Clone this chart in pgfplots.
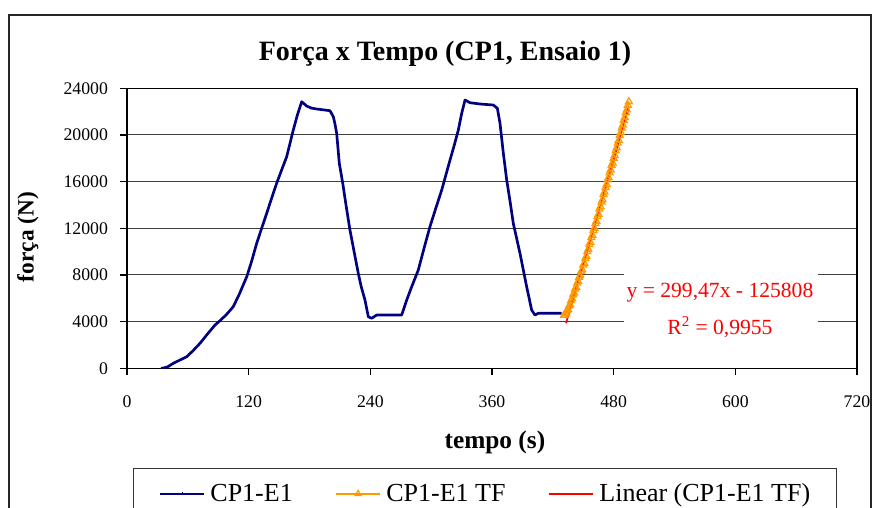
\documentclass[border=0pt]{standalone}
\usepackage{pgfplots}
\pgfplotsset{compat=1.18}
\usepackage{fontspec}
\setmainfont{Liberation Serif}
\definecolor{navyb}{RGB}{0,0,128}
\definecolor{orangetf}{RGB}{255,153,0}
\definecolor{redlin}{RGB}{255,0,0}
\begin{document}
\begin{tikzpicture}
\useasboundingbox (0,0) rectangle (655.5pt,-380.25pt);
\clip (0,0) rectangle (655.5pt,-380.25pt);
\fill[white] (0,0) rectangle (655.5pt,-380.25pt);
\draw[black!85,line width=1.1pt] (6.75pt,-11.25pt) rectangle (653.25pt,-465pt);
\begin{axis}[
  at={(95.25pt,-276.225pt)}, anchor=south west,
  scale only axis, width=547.5pt, height=210pt,
  xmin=0, xmax=720, ymin=0, ymax=24000,
  xtick={0,120,...,720}, ytick={0,4000,...,24000},
  tick pos=left, tick align=outside, major tick length=5.25pt,
  every tick/.style={black,line width=0.8pt},
  axis line style={black,line width=0.9pt},
  ymajorgrids, grid style={black!75,line width=0.75pt},
  /pgf/number format/assume math mode=true,
  /pgf/number format/1000 sep={},
  scaled ticks=false,
  tick label style={font=\fontsize{13.3}{15}\selectfont},
  yticklabel style={xshift=-5.5pt},
  xticklabel style={yshift=-12pt},
  title={\textbf{Força x Tempo (CP1, Ensaio 1)}},
  title style={at={(axis description cs:0.4356,1.07)},anchor=base,font=\fontsize{21}{24}\selectfont},
  xlabel={\textbf{tempo (s)}},
  xlabel style={at={(axis description cs:0.504,-0.288)},anchor=base,font=\fontsize{19}{22}\selectfont},
  ylabel={\textbf{força (N)}},
  ylabel style={at={(axis description cs:-0.1356,0.469)},anchor=center,rotate=0,font=\fontsize{17.5}{20}\selectfont},
  legend style={at={(axis description cs:0.0082,-0.3561)},anchor=north west,
    legend columns=3, draw=black!80, line width=0.75pt,
    inner xsep=19.5pt, inner ysep=11.5pt,
    nodes={inner sep=0pt, font=\fontsize{19.5}{22}\selectfont},
    /tikz/every odd column/.append style={column sep=4pt},
    /tikz/every even column/.append style={column sep=32pt}},
]
\addplot[navyb, line width=2pt, mark=none, line join=round,
  legend image code/.code={\draw[navyb,line width=1.2pt] (0pt,0pt) -- (33pt,0pt); \draw[navyb,line width=1pt] (16.5pt,0pt) -- (16.5pt,1.6pt);}]
coordinates {
(33.5,0) (36,30) (40,120) (45.7,430) (52,700) (58.9,994) (65,1500) (72,2143) (79,2900) (86.8,3711) (91.7,4080) (98,4600) (104.8,5280) (111,6400) (118.1,7851) (123,9200) (127.9,10714) (132.8,12000) (137.8,13285) (142.7,14600) (147.6,15857) (152.5,17000) (157.5,18136) (164,20425) (168,21700) (172.3,22851) (177.2,22482) (182,22300) (187.1,22225) (194,22150) (200.2,22079) (203.5,21565) (205,21000) (206.8,20142) (209.4,17571) (212.8,15857) (216,14000) (219.9,11854) (224,10000) (228.1,8143) (231,7000) (234.7,5857) (238,4423) (241.3,4286) (246.3,4568) (270.9,4568) (275.9,5857) (280.8,6994) (287.3,8425) (293,10300) (298.8,12137) (304.5,13700) (310.4,15282) (318.6,17854) (322.7,19100) (326.8,20425) (330.1,21856) (333.4,22996) (338.3,22765) (348.2,22654) (361.3,22568) (365.3,22285) (367.9,21000) (371.2,18428) (374.5,16139) (378,14200) (381,12428) (387.6,9857) (394.2,6994) (399.1,4997) (402.4,4568) (405.7,4714) (428.7,4714)
};
\addlegendentry{CP1-E1}
\addplot[orangetf, line width=1.6pt, mark=triangle, mark size=3pt, mark options={line width=0.9pt},
  legend image code/.code={\draw[orangetf,line width=1.2pt] (0pt,0pt) -- (33pt,0pt); \draw[orangetf,line width=0.9pt] plot[mark=triangle,mark size=2.6pt] coordinates {(16.5pt,0pt)};}]
coordinates {
(431,4550) (432,4650) (433,4700) (434,4950) (435,5050) (436,5350) (437,5450) (438,5800) (439,5950) (440,6300) (441,6450) (442,6800) (443,6950) (444,7300) (445,7450) (446,7800) (447,7950) (448,8300) (449,8450) (450,8850) (451,9000) (452,9400) (453,9600) (454,10000) (455,10200) (456,10600) (457,10800) (458,11200) (459,11400) (460,11800) (461,12000) (462,12400) (463,12600) (464,13000) (465,13200) (466,13650) (467,13850) (468,14250) (469,14450) (470,14900) (471,15100) (472,15500) (473,15750) (474,16150) (475,16350) (476,16750) (477,17000) (478,17400) (479,17600) (480,18000) (481,18250) (482,18650) (483,18900) (484,19300) (485,19550) (486,19950) (487,20200) (488,20600) (489,20850) (490,21250) (491,21500) (492,21900) (493,22150) (494,22550) (495,22850)
};
\addlegendentry{CP1-E1 TF}
\addplot[redlin, line width=1.3pt, mark=none,
  legend image code/.code={\draw[redlin,line width=1.4pt] (0pt,0pt) -- (33pt,0pt);}]
coordinates {(433,3863) (495,22430)};
\addlegendentry{Linear (CP1-E1 TF)}
\fill[white] (axis description cs:0.6808,0.3582) rectangle (axis description cs:0.9466,0.0832);
\node[anchor=base,text=redlin,font=\fontsize{16.2}{19}\selectfont,inner sep=0pt] at (axis description cs:0.8123,0.2546) {y = 299,47x - 125808};
\node[anchor=base,text=redlin,font=\fontsize{16.2}{19}\selectfont,inner sep=0pt] at (axis description cs:0.8123,0.119) {R\textsuperscript{2} = 0,9955};
\end{axis}
\end{tikzpicture}
\end{document}
